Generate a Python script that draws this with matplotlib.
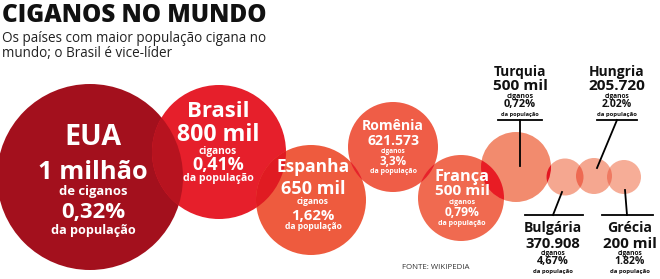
import matplotlib
matplotlib.use("Agg")
import matplotlib.pyplot as plt
from matplotlib.patches import Circle

# ---------------- data ----------------
countries = ["EUA", "Brasil", "Espanha", "Romênia", "França",
             "Turquia", "Bulgária", "Hungria", "Grécia"]
counts = ["1 milhão", "800 mil", "650 mil", "621.573", "500 mil",
          "500 mil", "370.908", "205.720", "200 mil"]
count_units = ["de ciganos", "ciganos", "ciganos", "ciganos", "ciganos",
               "ciganos", "ciganos", "ciganos", "ciganos"]
percents = ["0,32%", "0,41%", "1,62%", "3,3%", "0,79%",
            "0,72%", "4,67%", "2.02%", "1.82%"]
pct_label = "da população"
title = "CIGANOS NO MUNDO"
subtitle = ["Os países com maior população cigana no",
            "mundo; o Brasil é vice-líder"]
source = "FONTE: WIKIPEDIA"

# ---------------- layout (pixels) ----------------
cx = [90, 219, 311, 393, 461, 516, 565, 594, 624]
cy = [177, 152, 200, 147, 198, 167, 177, 176, 177]
rad = [93, 67, 55, 45, 43, 35, 18.5, 18, 17]
fills = ["#a3101d", "#e61f2b", "#ee5b3e", "#ef5d47", "#f06a50",
         "#f28b6e", "#f5a790", "#f5a790", "#f6ad97"]
overlaps = {(0, 1): "#b7131f", (1, 2): "#e01b22", (2, 3): "#e6232a",
            (3, 4): "#e8222a", (4, 5): "#e81c24", (5, 6): "#e41620",
            (6, 7): "#ee6a52", (7, 8): "#ef7a62"}

W, H = 660, 279
fig = plt.figure(figsize=(W / 100, H / 100), dpi=100)
ax = fig.add_axes([0, 0, 1, 1])
ax.set_xlim(0, W)
ax.set_ylim(H, 0)
ax.axis("off")
renderer = fig.canvas.get_renderer()

FONT = "Open Sans"

circles = []
for i in range(len(countries)):
    c = Circle((cx[i], cy[i]), rad[i], facecolor=fills[i], edgecolor="none", zorder=1)
    ax.add_patch(c)
    circles.append(c)
for (a, b), col in overlaps.items():
    c = Circle((cx[b], cy[b]), rad[b], facecolor=col, edgecolor="none", zorder=2)
    ax.add_patch(c)
    c.set_clip_path(circles[a])


def fit(x, y, s, width, color="white", weight="bold", ha="center", z=5):
    t = ax.text(x, y, s, fontsize=10, color=color, fontweight=weight,
                family=FONT, ha=ha, va="baseline", zorder=z)
    w = t.get_window_extent(renderer).width
    t.set_fontsize(10 * width / w)
    return t


# title + subtitle
fit(2, 22, title, 266, color="#111111", weight="heavy", ha="left")
sub = fit(2, 42, subtitle[0], 265, color="#222222", weight="normal", ha="left")
ax.text(2, 57, subtitle[1], color="#222222", family=FONT, va="baseline",
        fontsize=sub.get_fontsize())
fit(402, 269, source, 68, color="#333333", weight="normal", ha="left")

# label specs: (x center, baselines[5], widths[5], color)
specs = [
    (93, [145, 179, 195, 218, 234], [57, 109, 68, 64, 85], "white"),
    (218, [117, 141, 154, 170, 181], [63, 83, 38, 52, 70], "white"),
    (313, [172, 194, 204, 220, 229], [73, 65, 32, 43, 57], "white"),
    (393, [130, 145, 153, 165, 173], [62, 52, 25, 27, 47], "white"),
    (462, [181, 195, 204, 216, 225], [55, 55, 27, 35, 48], "white"),
    (520, [76, 90, 98, 107, 116], [52, 55, 27, 32, 38], "#111111"),
    (553, [232, 248, 255, 264, 273], [58, 55, 25, 32, 40], "#111111"),
    (617, [76, 90, 98, 107, 116], [55, 57, 25, 30, 40], "#111111"),
    (630, [232, 248, 255, 264, 273], [45, 54, 25, 30, 40], "#111111"),
]
for i, (x, ys, ws, col) in enumerate(specs):
    fit(x, ys[0], countries[i], ws[0], color=col)
    fit(x, ys[1], counts[i], ws[1], color=col)
    fit(x, ys[2], count_units[i], ws[2], color=col)
    fit(x, ys[3], percents[i], ws[3], color=col)
    fit(x, ys[4], pct_label, ws[4], color=col)

# leader lines
lw = 1.3
ax.plot([498, 542], [120, 120], color="black", lw=lw, zorder=6)
ax.plot([520, 520], [120, 166], color="black", lw=lw, zorder=6)
ax.plot([597, 637], [120, 120], color="black", lw=lw, zorder=6)
ax.plot([617, 597], [120, 168], color="black", lw=lw, zorder=6)
ax.plot([525, 583], [215, 215], color="black", lw=lw, zorder=6)
ax.plot([553, 562], [215, 192], color="black", lw=lw, zorder=6)
ax.plot([602, 653], [215, 215], color="black", lw=lw, zorder=6)
ax.plot([627, 625], [215, 190], color="black", lw=lw, zorder=6)

fig.savefig("out.png", dpi=100)
